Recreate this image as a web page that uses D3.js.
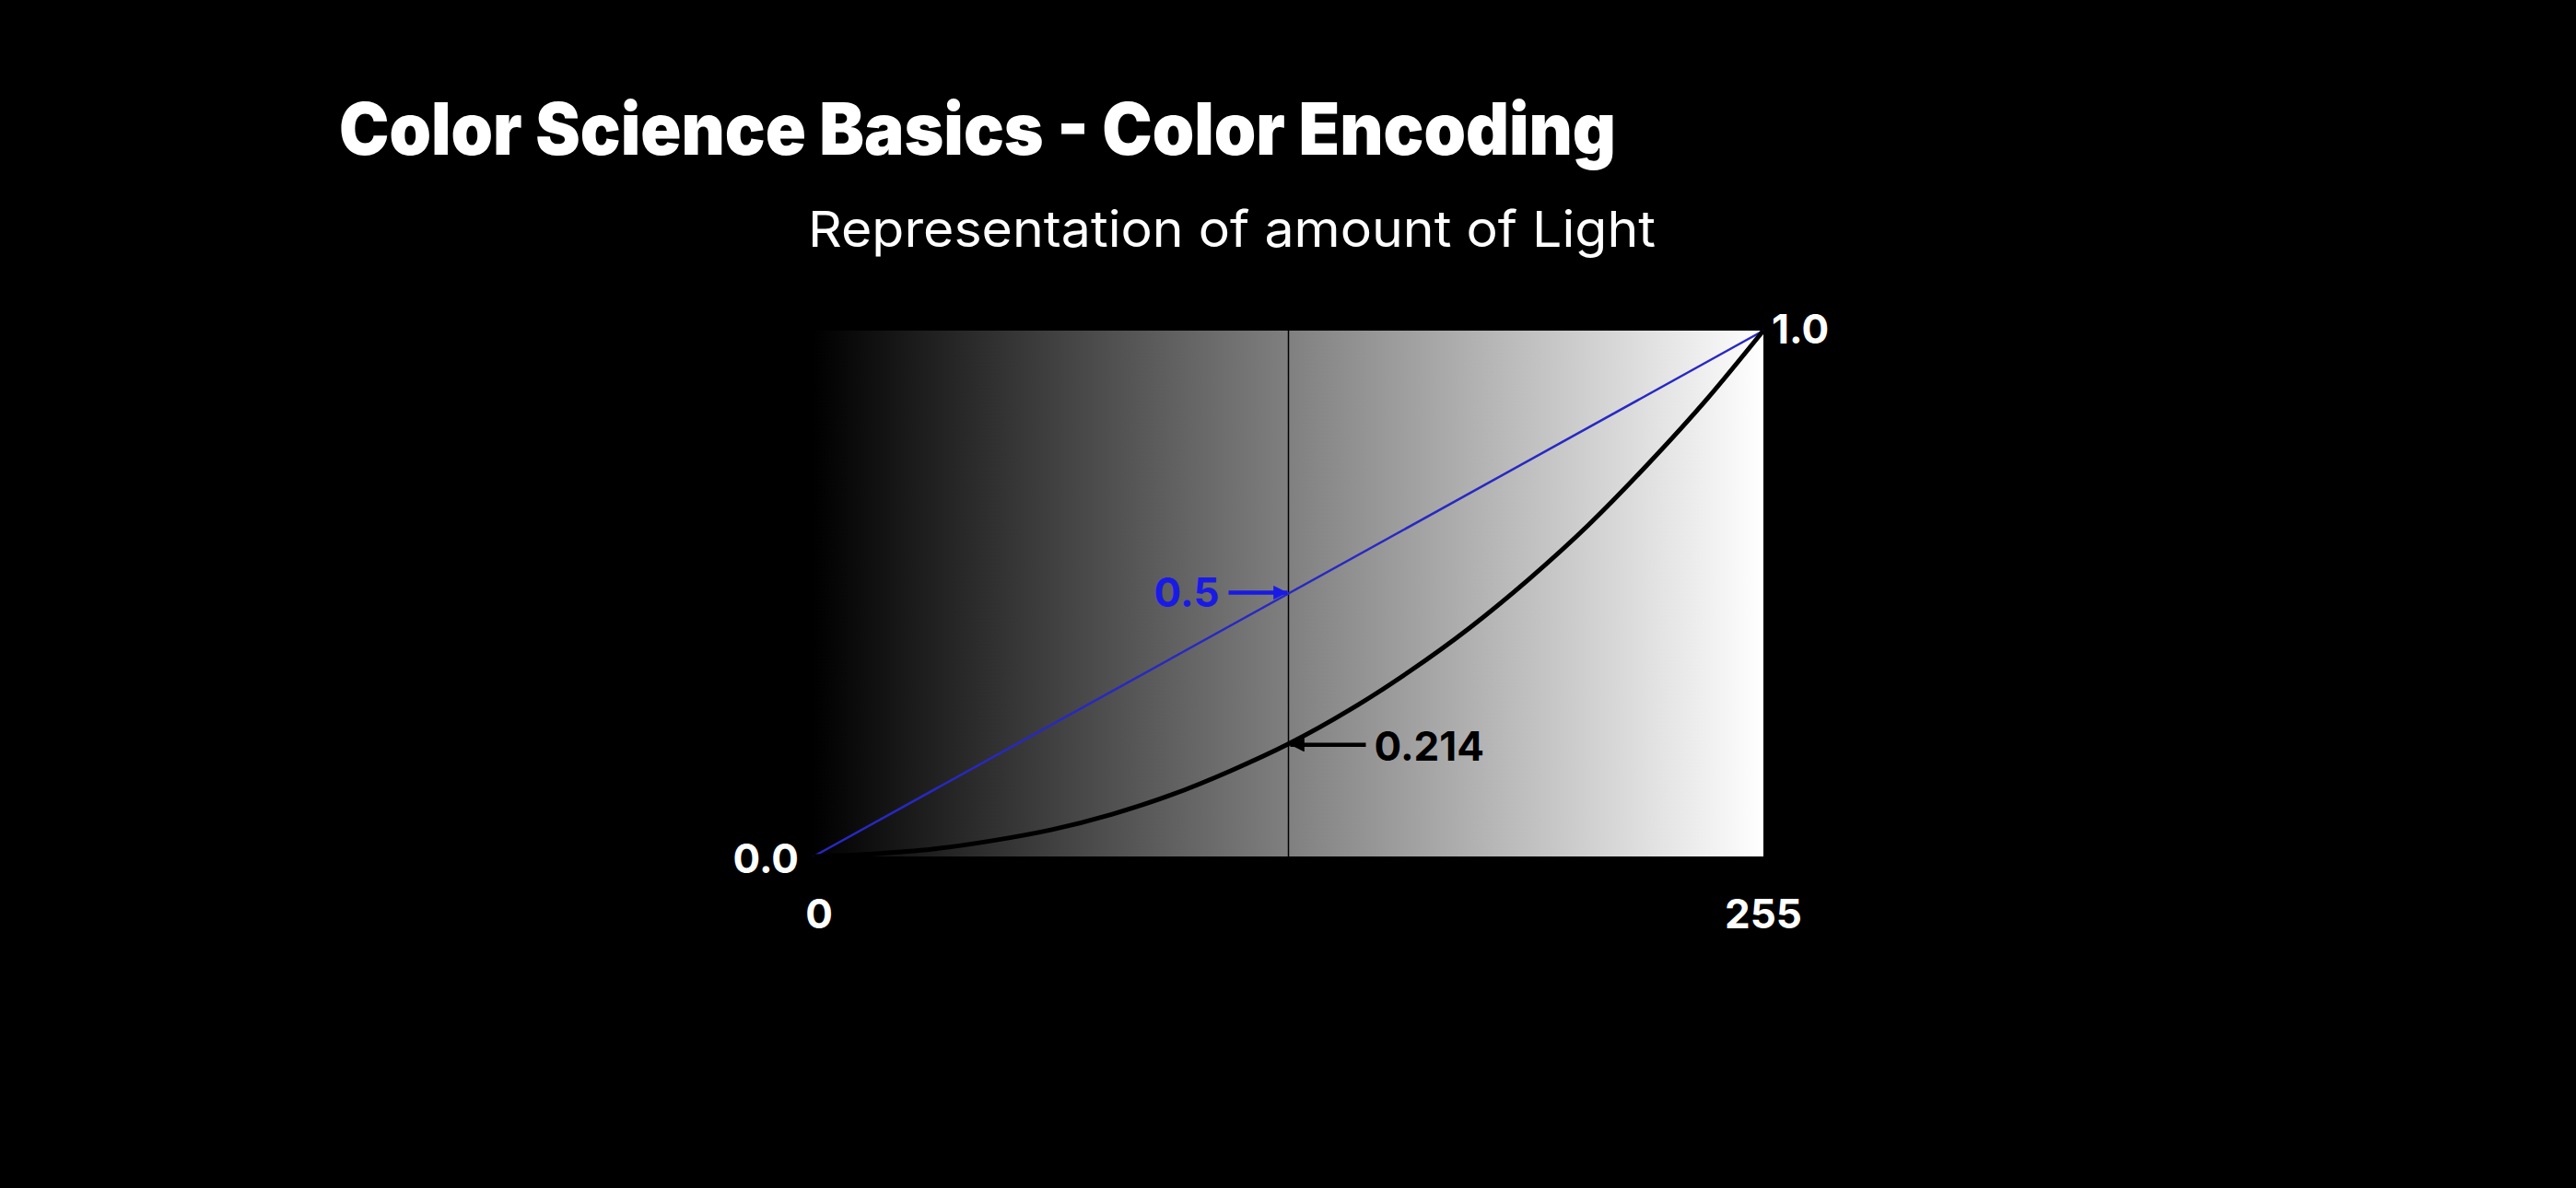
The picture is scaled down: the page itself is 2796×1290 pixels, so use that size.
<!DOCTYPE html>
<html>
<head>
<meta charset="utf-8">
<style>
  html, body { margin: 0; padding: 0; background: #000; }
  svg { display: block; }
  text { font-family: Inter, "Noto Sans", sans-serif; }
</style>
<script src="https://d3js.org/d3.v7.min.js"></script>
</head>
<body>
<script>
// code values (0..255) and the light they stand for
var codeValues  = [0, 16, 32, 48, 64, 80, 96, 112, 127.5, 144, 160, 176, 192, 208, 224, 240, 255];
var linearLight = [0, 0.005, 0.014, 0.030, 0.051, 0.080, 0.117, 0.163, 0.214, 0.279, 0.352, 0.434, 0.527, 0.630, 0.746, 0.871, 1.0];

// straight (blue) encoding
var straightCodes  = [0, 255];
var straightValues = [0, 1];

var xTicks = [0, 255];
var xTickLabels = ["0", "255"];
var yTicks = [0, 1];
var yTickLabels = ["0.0", "1.0"];

var midCode = 127.5;
var midStraight = 0.5;
var midLinear = 0.214;

var W = 2796, H = 1290;

var svg = d3.select("body").append("svg")
    .attr("width", W)
    .attr("height", H);

svg.append("rect").attr("width", W).attr("height", H).attr("fill", "#000");

var x = d3.scaleLinear().domain([0, 255]).range([883, 1914]);
var y = d3.scaleLinear().domain([0, 1]).range([930, 359]);

// title + subtitle
svg.append("text")
    .attr("x", 368).attr("y", 168)
    .attr("font-size", 78).attr("font-weight", 900)
    .attr("textLength", 1386).attr("lengthAdjust", "spacingAndGlyphs")
    .attr("fill", "#fff")
    .text("Color Science Basics - Color Encoding");

svg.append("text")
    .attr("x", 877).attr("y", 268)
    .attr("font-size", 54).attr("font-weight", 400)
    .attr("textLength", 920).attr("lengthAdjust", "spacingAndGlyphs")
    .attr("fill", "#fff")
    .text("Representation of amount of Light");

// gray ramp background
var defs = svg.append("defs");
var grad = defs.append("linearGradient").attr("id", "ramp")
    .attr("x1", "0%").attr("x2", "100%").attr("y1", "0%").attr("y2", "0%");
grad.append("stop").attr("offset", "0%").attr("stop-color", "#000");
grad.append("stop").attr("offset", "100%").attr("stop-color", "#fff");

svg.append("rect")
    .attr("x", x(0)).attr("y", y(1))
    .attr("width", x(255) - x(0)).attr("height", y(0) - y(1))
    .attr("fill", "url(#ramp)");

// arrow heads
function marker(id, col) {
    defs.append("marker").attr("id", id)
        .attr("viewBox", "0 0 10 10").attr("refX", 10).attr("refY", 5)
        .attr("markerWidth", 4).attr("markerHeight", 3.4)
        .attr("markerUnits", "strokeWidth")
        .attr("orient", "auto")
        .append("path").attr("d", "M0,0 L10,5 L0,10 Z").attr("fill", col);
}
marker("arrBlue", "#1a1ae6");
marker("arrBlack", "#000");

// vertical guide at mid code value
svg.append("line")
    .attr("x1", x(midCode)).attr("x2", x(midCode))
    .attr("y1", y(1)).attr("y2", y(0))
    .attr("stroke", "#000").attr("stroke-width", 1.5);

// straight line
var line = d3.line().x(function (d) { return x(d[0]); }).y(function (d) { return y(d[1]); });
svg.append("path")
    .datum(d3.zip(straightCodes, straightValues))
    .attr("d", line)
    .attr("fill", "none").attr("stroke", "#2828c4").attr("stroke-width", 2.5);

// light curve
svg.append("path")
    .datum(d3.zip(codeValues, linearLight))
    .attr("d", line.curve(d3.curveMonotoneX))
    .attr("fill", "none").attr("stroke", "#000").attr("stroke-width", 5);

// annotations
svg.append("line")
    .attr("x1", x(midCode) - 65).attr("x2", x(midCode) - 1)
    .attr("y1", y(midStraight) - 1).attr("y2", y(midStraight) - 1)
    .attr("stroke", "#1a1ae6").attr("stroke-width", 4.5)
    .attr("marker-end", "url(#arrBlue)");
svg.append("text")
    .attr("x", x(midCode) - 75).attr("y", y(midStraight) + 14)
    .attr("text-anchor", "end")
    .attr("font-size", 44).attr("font-weight", 700)
    .attr("fill", "#1a1ae6")
    .text(midStraight.toFixed(1));

svg.append("line")
    .attr("x1", x(midCode) + 84).attr("x2", x(midCode) + 2)
    .attr("y1", y(midLinear) + 1).attr("y2", y(midLinear) + 1)
    .attr("stroke", "#000").attr("stroke-width", 4.5)
    .attr("marker-end", "url(#arrBlack)");
svg.append("text")
    .attr("x", x(midCode) + 93).attr("y", y(midLinear) + 18)
    .attr("font-size", 44).attr("font-weight", 700)
    .attr("fill", "#000")
    .text(midLinear.toString());

// axis labels
svg.selectAll(".xlab")
    .data(xTicks)
    .enter().append("text")
    .attr("class", "xlab")
    .attr("x", function (d, i) { return x(d) + (i == 0 ? 6 : 0); })
    .attr("y", 1008)
    .attr("text-anchor", "middle")
    .attr("font-size", 44).attr("font-weight", 700)
    .attr("fill", "#fff")
    .text(function (d, i) { return xTickLabels[i]; });

svg.selectAll(".ylab")
    .data(yTicks)
    .enter().append("text")
    .attr("class", "ylab")
    .attr("x", function (d, i) { return i == 0 ? x(0) - 16 : x(255) + 9; })
    .attr("y", function (d, i) { return y(d) + (i == 0 ? 18 : 14); })
    .attr("text-anchor", function (d, i) { return i == 0 ? "end" : "start"; })
    .attr("font-size", 44).attr("font-weight", 700)
    .attr("fill", "#fff")
    .text(function (d, i) { return yTickLabels[i]; });
</script>
</body>
</html>
